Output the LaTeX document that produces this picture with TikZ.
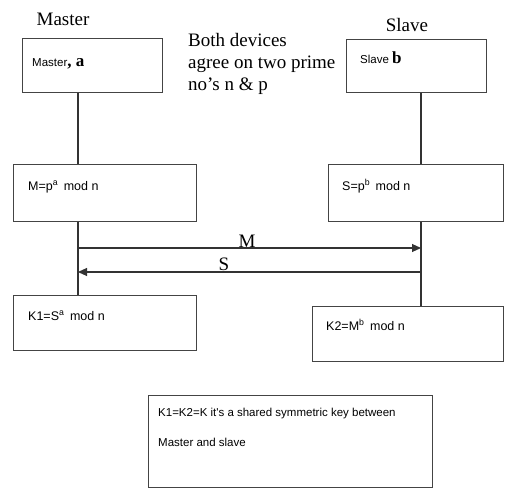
\documentclass[tikz,border=0pt]{standalone}
\usepackage{fontspec}
\setmainfont{Liberation Serif}
\newfontfamily\boxfont{Liberation Sans}
\usetikzlibrary{arrows.meta}
\definecolor{linecol}{HTML}{333333}
\definecolor{boxcol}{HTML}{444444}
\tikzset{
  box/.style={draw=boxcol, line width=1.3pt, anchor=north west, inner sep=0pt},
  conn/.style={draw=linecol, line width=1.1pt},
  msg/.style={conn, -{Triangle[length=9pt,width=8pt]}},
  lbl/.style={font=\fontsize{19}{22}\selectfont, inner sep=0pt},
  btxt/.style={font=\boxfont\fontsize{11.5}{14}\selectfont, inner sep=0pt, anchor=base west},
  ftxt/.style={btxt, font=\boxfont\fontsize{12.5}{15}\selectfont},
}
\begin{document}
\begin{tikzpicture}[x=1pt,y=-1pt]
\useasboundingbox (0,0) rectangle (505,489);
% headings
\node[lbl, anchor=base] (hm) at (63,26) {Master};
\node[lbl, anchor=base] (hs) at (407,32) {Slave};
\node[lbl, anchor=base west, align=left] (note) at (188,91) {Both devices\\agree on two prime\\no's n \& p};
% boxes
\node[box, minimum width=140pt, minimum height=54pt] (m1) at (22,38) {};
\node[box, minimum width=140pt, minimum height=53pt] (s1) at (346,39) {};
\node[box, minimum width=183pt, minimum height=57pt] (m2) at (13,164) {};
\node[box, minimum width=175pt, minimum height=57pt] (s2) at (328,164) {};
\node[box, minimum width=183pt, minimum height=55pt] (m3) at (13,295) {};
\node[box, minimum width=191pt, minimum height=55pt] (s3) at (312,306) {};
\node[box, minimum width=284pt, minimum height=92pt] (kb) at (148,395) {};
% box texts
\node[btxt] (tm1) at (32,67) {Master\fontsize{17}{20}\selectfont\rmfamily\bfseries, a};
\node[btxt] (ts1) at (360,64) {Slave \fontsize{17}{20}\selectfont\rmfamily\bfseries b};
\node[ftxt] (tm2) at (28,190) {M=p\textsuperscript{a}\, mod n};
\node[ftxt] (ts2) at (342,190) {S=p\textsuperscript{b}\, mod n};
\node[ftxt] (tm3) at (28,320) {K1=S\textsuperscript{a}\, mod n};
\node[ftxt] (ts3) at (326,330) {K2=M\textsuperscript{b}\, mod n};
\node[btxt, align=left] (tkb) at (158,446) {K1=K2=K it's a shared symmetric key between\\[16pt]Master and slave};
% lifelines
\coordinate (mx) at (78,0);
\coordinate (sx) at (421,0);
\coordinate (ya) at (0,248);
\coordinate (yb) at (0,272);
\draw[conn] (mx |- m1.south) -- (mx |- m2.north);
\draw[conn] (sx |- s1.south) -- (sx |- s2.north);
\draw[conn] (mx |- m2.south) -- (mx |- m3.north);
\draw[conn] (sx |- s2.south) -- (sx |- s3.north);
% messages
\draw[msg] (mx |- ya) -- (sx |- ya);
\draw[msg] (sx |- yb) -- (mx |- yb);
\node[lbl, anchor=base] (lm) at (247,247) {M};
\node[lbl, anchor=base] (ls) at (224,270) {S};
\end{tikzpicture}
\end{document}
